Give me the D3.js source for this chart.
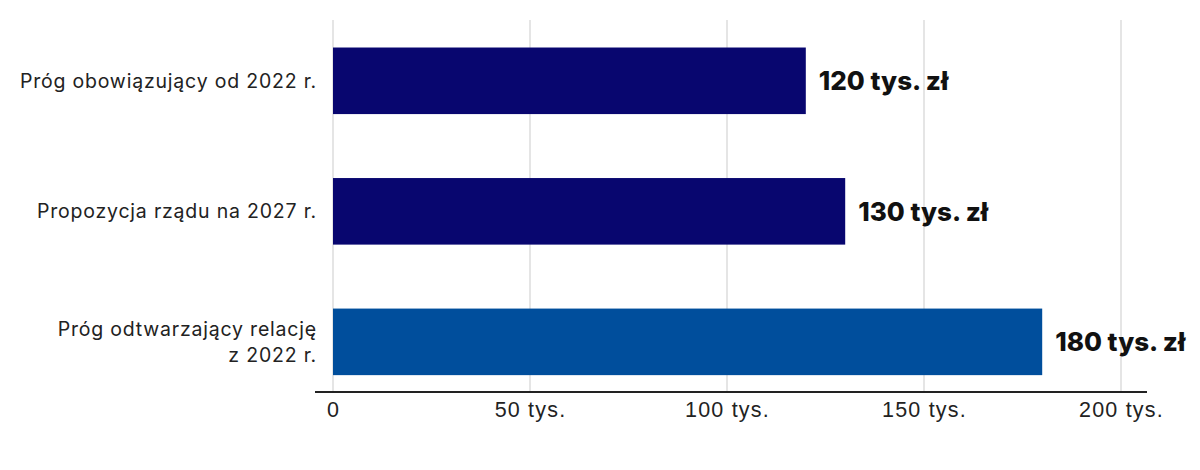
<!DOCTYPE html>
<html>
<head>
    <meta charset="utf-8">
    <title>Próg dochodowy</title>
    <script src="https://cdn.jsdelivr.net/npm/d3@7"></script>
    <style>
        body { margin: 0; background: #fff; }
        svg { display: block; font-family: Inter, "Noto Sans", sans-serif; }
        .cat-label { font-size: 19.5px; fill: #222; letter-spacing: 0.8px; }
        .val-label { font-size: 26px; font-weight: 800; fill: #111; }
        .x-axis text { font-size: 21.5px; fill: #222; letter-spacing: 1.2px; }
    </style>
</head>
<body>
<div id="chart"></div>
<script>
    // data
    var categories = ["Próg obowiązujący od 2022 r.", "Propozycja rządu na 2027 r.", "Próg odtwarzający relację\nz 2022 r."];
    var values = [120, 130, 180];
    var valueLabels = ["120 tys. zł", "130 tys. zł", "180 tys. zł"];
    var barColors = ["#08066f", "#08066f", "#004e9c"];
    var xTicks = [0, 50, 100, 150, 200];
    var xTickLabels = ["0", "50 tys.", "100 tys.", "150 tys.", "200 tys."];

    var svgWidth = 1200, svgHeight = 470;
    var margin = {top: 20, right: 53, bottom: 78, left: 333};
    var height = svgHeight - margin.top - margin.bottom;

    var svg = d3.select("#chart").append("svg")
        .attr("width", svgWidth)
        .attr("height", svgHeight);

    var g = svg.append("g")
        .attr("transform", `translate(${margin.left},${margin.top})`);

    var x = d3.scaleLinear().domain([0, 200]).range([0, 788]);
    var y = d3.scaleBand()
        .domain(categories)
        .range([0, height])
        .paddingInner(0.49)
        .paddingOuter(0.17)
        .align(0.62);

    // gridlines
    g.selectAll(".grid")
        .data(xTicks)
        .enter().append("line")
            .attr("class", "grid")
            .attr("x1", d => x(d)).attr("x2", d => x(d))
            .attr("y1", 0).attr("y2", height)
            .style("stroke", "#dcdcdc")
            .style("stroke-width", 1.5);

    // bars
    g.selectAll(".bar")
        .data(categories)
        .enter().append("rect")
            .attr("class", "bar")
            .attr("x", x(0))
            .attr("y", d => y(d))
            .attr("width", (d, i) => x(values[i]) - x(0))
            .attr("height", y.bandwidth())
            .style("fill", (d, i) => barColors[i]);

    // value labels
    g.selectAll(".val-label")
        .data(categories)
        .enter().append("text")
            .attr("class", "val-label")
            .attr("x", (d, i) => x(values[i]) + 13)
            .attr("y", d => y(d) + y.bandwidth() / 2)
            .attr("dy", "0.36em")
            .text((d, i) => valueLabels[i]);

    // category labels (split on \n)
    var cat = g.selectAll(".cat-label")
        .data(categories)
        .enter().append("text")
            .attr("class", "cat-label")
            .attr("text-anchor", "end")
            .attr("x", -16)
            .attr("y", d => y(d) + y.bandwidth() / 2);

    cat.each(function(d) {
        var lines = d.split("\n");
        var t = d3.select(this);
        lines.forEach((ln, k) => {
            t.append("tspan")
                .attr("x", -16)
                .attr("dy", k === 0 ? (0.36 - (lines.length - 1) * 0.65) + "em" : "1.3em")
                .text(ln);
        });
    });

    // x axis
    var xAxis = g.append("g")
        .attr("class", "x-axis")
        .attr("transform", `translate(0,${height})`)
        .call(d3.axisBottom(x)
            .tickValues(xTicks)
            .tickFormat((d, i) => xTickLabels[i])
            .tickSize(0)
            .tickPadding(10));

    xAxis.select(".domain").remove();
    xAxis.append("line")
        .attr("x1", -18).attr("x2", 814)
        .attr("y1", 0).attr("y2", 0)
        .style("stroke", "#222")
        .style("stroke-width", 2);
    xAxis.selectAll("text").style("font-family", null);
</script>
</body>
</html>
